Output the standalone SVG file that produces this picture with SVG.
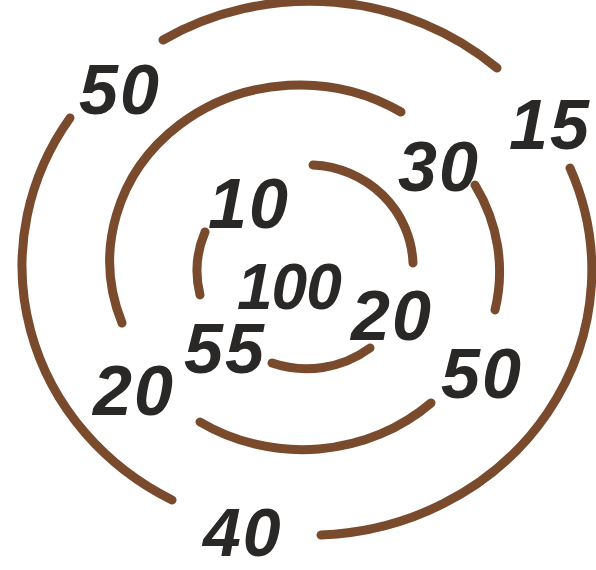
<svg xmlns="http://www.w3.org/2000/svg" width="596" height="570" viewBox="0 0 596 570">
<style>
.arc{fill:none;stroke:#7a4a2d;stroke-width:9;stroke-linecap:round}
.num{font-family:"Liberation Sans",Arial,sans-serif;font-weight:bold;font-style:italic;font-size:70px;letter-spacing:2px;fill:#2a2826}
</style>
<rect width="596" height="570" fill="#ffffff"/>
<g id="connectors">
<g id="outer-ring">
<path class="arc" d="M163 40 A282 265 0 0 1 497 68"/>
<path class="arc" d="M70 118 A282 265 0 0 0 172 500"/>
<path class="arc" d="M570 168 A282 265 0 0 1 321 535"/>
</g>
<g id="middle-ring">
<path class="arc" d="M122 323 A190 176 0 0 1 401 112"/>
<path class="arc" d="M475 185 A190 176 0 0 1 495 310"/>
<path class="arc" d="M200 422 A190 176 0 0 0 431 403"/>
</g>
<g id="inner-ring">
<path class="arc" d="M313 165 A105 102 0 0 1 413 263"/>
<path class="arc" d="M205 232 A105 102 0 0 0 200 295"/>
<path class="arc" d="M272 363 A105 102 0 0 0 370 348"/>
</g>
</g>
<g id="n50a"><text class="num" x="79" y="114">50</text></g>
<g id="n15"><text class="num" x="509" y="149">15</text></g>
<g id="n30"><text class="num" x="398" y="191">30</text></g>
<g id="n10"><text class="num" x="208" y="228">10</text></g>
<g id="n100"><text class="num" x="237" y="309" style="font-size:64px;letter-spacing:-1px">100</text></g>
<g id="n20a"><text class="num" x="351" y="340">20</text></g>
<g id="n55"><text class="num" x="184" y="373">55</text></g>
<g id="n20b"><text class="num" x="93" y="415">20</text></g>
<g id="n50b"><text class="num" x="441" y="398">50</text></g>
<g id="n40"><text class="num" x="203" y="556" style="font-size:68px">40</text></g>
</svg>
